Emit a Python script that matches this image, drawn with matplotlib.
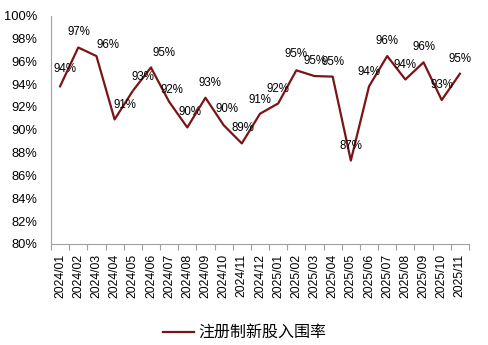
import numpy as np
import matplotlib
matplotlib.use('Agg')
import matplotlib.pyplot as plt
from matplotlib.ticker import FuncFormatter

plt.rcParams['font.family'] = ['Liberation Sans', 'Noto Sans CJK SC', 'DejaVu Sans']

# data
months = ['2024/01', '2024/02', '2024/03', '2024/04', '2024/05', '2024/06',
          '2024/07', '2024/08', '2024/09', '2024/10', '2024/11', '2024/12',
          '2025/01', '2025/02', '2025/03', '2025/04', '2025/05', '2025/06',
          '2025/07', '2025/08', '2025/09', '2025/10', '2025/11']
rate = [93.8, 97.2, 96.45, 90.9, 93.4, 95.45, 92.45, 90.2, 92.8, 90.4, 88.8, 91.4,
        92.3, 95.2, 94.7, 94.65, 87.3, 93.8, 96.45, 94.4, 95.9, 92.6, 94.9]
series_name = '注册制新股入围率'

# label offsets in pixels (dx, dy up)
label_off = [(5, 17), (1, 15), (12, 11), (10, 14), (10, 14), (13, 14), (3, 12),
             (3, 15), (4, 15), (3, 16), (1, 15), (0, 14), (0, 14), (0, 16),
             (0, 15), (0, 15), (0, 15), (0, 14), (0, 15), (0, 14), (0, 15),
             (0, 15), (0, 15)]
leader = [4, 5]

color = '#7B1416'
px = 0.72

fig = plt.figure(figsize=(4.88, 3.45), dpi=100)
ax = fig.add_axes([0.1045, 0.293, 0.8565, 0.662])

x = np.arange(len(months))
line, = ax.plot(x, rate, color=color, lw=1.6, label=series_name)

for i, v in enumerate(rate):
    dx, dy = label_off[i]
    kw = {}
    if i in leader:
        kw['arrowprops'] = dict(arrowstyle='-', color='#606060', lw=0.6,
                                shrinkA=4, shrinkB=1)
    ax.annotate(f'{round(v):.0f}%', (i, v), xytext=(dx * px, dy * px),
                textcoords='offset points', ha='center', va='center',
                fontsize=8.3, color='black', **kw)

ax.set_xlim(-0.5, len(months) - 0.5)
ax.set_ylim(80, 100)
ax.set_yticks(np.arange(80, 101, 2))
ax.yaxis.set_major_formatter(FuncFormatter(lambda v, p: f'{v:.0f}%'))
ax.tick_params(axis='y', length=0, pad=10, labelsize=9.3)

ax.set_xticks(x)
ax.set_xticklabels(months, rotation=90, fontsize=8.8)
ax.set_xticks(np.arange(-0.5, len(months)), minor=True)
ax.tick_params(axis='x', which='major', length=0, pad=7)
ax.tick_params(axis='x', which='minor', length=4, color='#A0A0A0', width=0.8)

for s in ['top', 'right']:
    ax.spines[s].set_visible(False)
for s in ['left', 'bottom']:
    ax.spines[s].set_color('#A0A0A0')
    ax.spines[s].set_linewidth(0.8)

fig.legend(handles=[line], loc='center', bbox_to_anchor=(0.502, 0.035),
           frameon=False, fontsize=11.5, handlelength=1.9, handletextpad=0.3)

fig.savefig('out.png', dpi=100)
